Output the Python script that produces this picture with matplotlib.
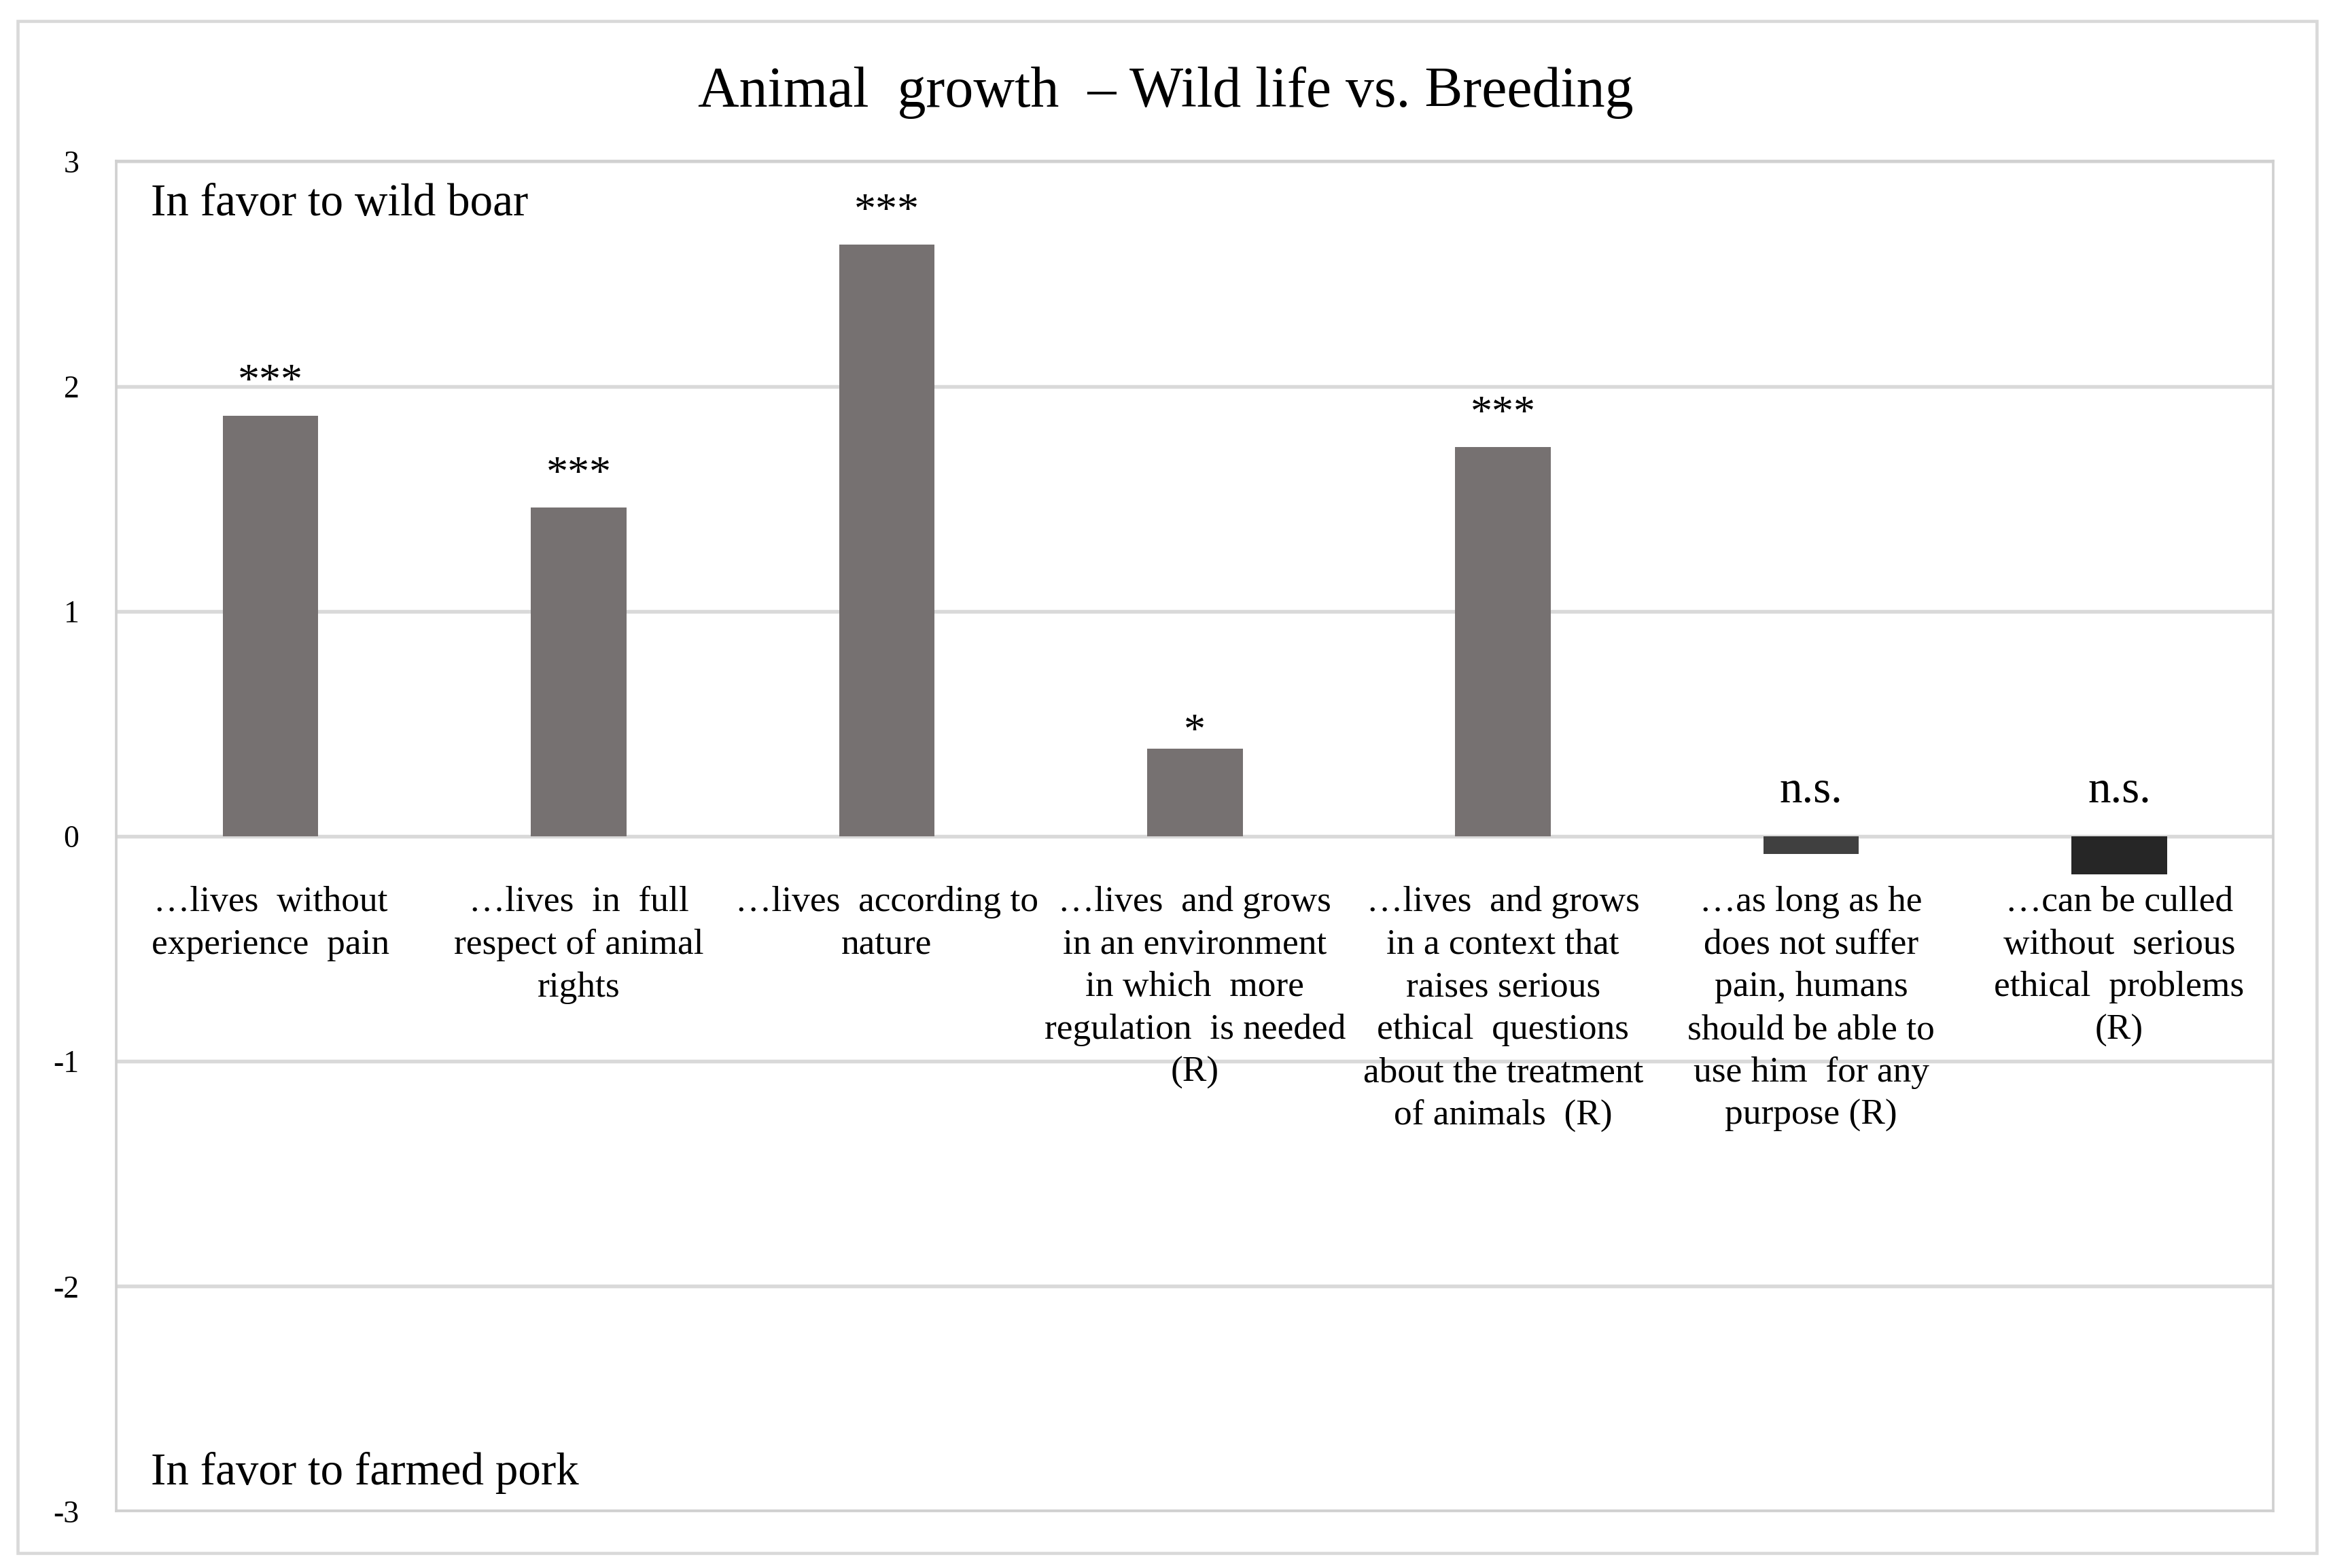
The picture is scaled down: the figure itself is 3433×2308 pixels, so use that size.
#!/usr/bin/env python3
"""Bar chart: Animal growth - Wild life vs. Breeding (wild boar vs farmed pork)."""
import numpy as np
import matplotlib
matplotlib.use("Agg")
import matplotlib.pyplot as plt
from matplotlib.patches import Rectangle

# ---------------- data ----------------
categories = [
    "\u2026lives  without\nexperience  pain",
    "\u2026lives  in  full\nrespect of animal\nrights",
    "\u2026lives  according to\nnature",
    "\u2026lives  and grows\nin an environment\nin which  more\nregulation  is needed\n(R)",
    "\u2026lives  and grows\nin a context that\nraises serious\nethical  questions\nabout the treatment\nof animals  (R)",
    "\u2026as long as he\ndoes not suffer\npain, humans\nshould be able to\nuse him  for any\npurpose (R)",
    "\u2026can be culled\nwithout  serious\nethical  problems\n(R)",
]
values = [1.87, 1.46, 2.63, 0.39, 1.73, -0.08, -0.17]
significance = ["***", "***", "***", "*", "***", "n.s.", "n.s."]
bar_colors = ["#767171", "#767171", "#767171", "#767171", "#767171", "#404040", "#262626"]
yticks = [-3, -2, -1, 0, 1, 2, 3]

plt.rcParams["font.family"] = ["Liberation Serif", "DejaVu Serif"]

fig = plt.figure(figsize=(15.63, 10.508), dpi=219.65)
ax = fig.add_axes([0.0499, 0.0362, 0.9245, 0.8609])

x = np.arange(len(values))
ax.bar(x, values, width=0.31, color=bar_colors, zorder=3)

ax.set_xlim(-0.5, len(values) - 0.5)
ax.set_ylim(-3, 3)
ax.set_yticks(yticks)
ax.set_yticklabels([str(t) for t in yticks], fontsize=15)
ax.tick_params(axis="y", length=0, pad=18)
ax.set_xticks([])
ax.yaxis.grid(True, color="#D9D9D9", linewidth=1.8, zorder=0)
for side in ["left", "right", "bottom", "top"]:
    ax.spines[side].set_color("#D0D0D0")
    ax.spines[side].set_linewidth(1.2)

# significance marks above bars (or above the zero line for negatives)
for xi, v, s in zip(x, values, significance):
    base = max(v, 0)
    if s == "n.s.":
        size, off = 22, 12
    elif s == "*":
        size, off = 21, -2
    else:
        size, off = 21, 6
    ax.annotate(s, (xi, base), xytext=(0, off), textcoords="offset points",
                ha="center", va="bottom", fontsize=size, zorder=4)

# category labels under the zero line
for xi, lab in zip(x, categories):
    ax.text(xi, -0.22, lab, ha="center", va="top", fontsize=17.5,
            linespacing=1.4, zorder=4)

ax.text(0.016, 2.81, "In favor to wild boar", fontsize=22, va="center",
        ha="left", transform=ax.get_yaxis_transform())
ax.text(0.016, -2.83, "In favor to farmed pork", fontsize=22, va="center",
        ha="left", transform=ax.get_yaxis_transform())

fig.text(0.4997, 0.941, "Animal  growth  \u2013 Wild life vs. Breeding",
         ha="center", va="center", fontsize=27.5)

# outer chart border
fig.patches.append(Rectangle((0.0077, 0.0095), 0.9853, 0.9771,
                             transform=fig.transFigure, fill=False,
                             edgecolor="#D9D9D9", linewidth=1.5))

plt.savefig("out.png", dpi=219.65, facecolor="white")
